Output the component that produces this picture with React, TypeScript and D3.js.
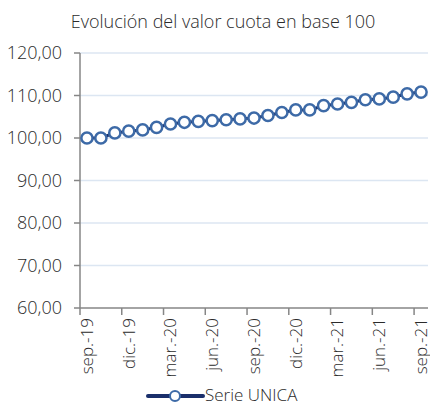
import { useEffect, useRef } from 'react';
import * as d3 from 'd3';

const months = [
    'sep.-19', 'oct.-19', 'nov.-19', 'dic.-19', 'ene.-20', 'feb.-20', 'mar.-20', 'abr.-20', 'may.-20',
    'jun.-20', 'jul.-20', 'ago.-20', 'sep.-20', 'oct.-20', 'nov.-20', 'dic.-20', 'ene.-21', 'feb.-21',
    'mar.-21', 'abr.-21', 'may.-21', 'jun.-21', 'jul.-21', 'ago.-21', 'sep.-21',
];
const serieUnica = [
    100.0, 100.0, 101.2, 101.6, 101.9, 102.5, 103.3, 103.7, 103.9, 104.1, 104.3, 104.5, 104.7,
    105.3, 106.0, 106.6, 106.6, 107.6, 108.0, 108.4, 109.0, 109.2, 109.6, 110.4, 110.8,
];
const yTicks = [60, 70, 80, 90, 100, 110, 120];

const FONT = '"Open Sans", "Noto Sans", sans-serif';
const TEXT = '#2b2b2b';
const WEIGHT = 300;

export default function App() {
    const svgRef = useRef<SVGSVGElement>(null);
    const width = 430;
    const height = 405;

    useEffect(() => {
        document.body.style.margin = '0';
        if (!svgRef.current) return;
        const svg = d3.select(svgRef.current);
        svg.selectAll('*').remove();

        const left = 80, right = 428, top = 53, bottom = 308;

        const x = d3.scaleBand<string>().domain(months).range([left, right]);
        const y = d3.scaleLinear().domain([60, 120]).range([bottom, top]);

        // Gridlines
        svg.append('g')
            .selectAll('line')
            .data(yTicks.filter(t => t > 60))
            .enter().append('line')
            .attr('x1', left).attr('x2', right)
            .attr('y1', d => y(d)).attr('y2', d => y(d))
            .attr('stroke', '#dce6f2')
            .attr('stroke-width', 1.5);

        // Y axis
        svg.append('line')
            .attr('x1', left).attr('x2', left)
            .attr('y1', top).attr('y2', bottom)
            .attr('stroke', '#868686').attr('stroke-width', 1.5);
        const yt = svg.append('g');
        yt.selectAll('line')
            .data(yTicks)
            .enter().append('line')
            .attr('x1', left - 6).attr('x2', left)
            .attr('y1', d => y(d)).attr('y2', d => y(d))
            .attr('stroke', '#868686').attr('stroke-width', 1.5);
        yt.selectAll('text')
            .data(yTicks)
            .enter().append('text')
            .attr('x', 62)
            .attr('y', d => y(d))
            .attr('dy', '0.35em')
            .attr('text-anchor', 'end')
            .attr('font-family', FONT)
            .attr('font-size', '18px')
            .attr('font-weight', WEIGHT)
            .attr('fill', TEXT)
            .text(d => d3.format('.2f')(d).replace('.', ','));

        // X axis
        svg.append('line')
            .attr('x1', left).attr('x2', right)
            .attr('y1', bottom).attr('y2', bottom)
            .attr('stroke', '#868686').attr('stroke-width', 1.5);
        const labelled = months.filter((_, i) => i % 3 === 0);
        svg.append('g')
            .selectAll('line')
            .data(labelled)
            .enter().append('line')
            .attr('x1', d => x(d)!).attr('x2', d => x(d)!)
            .attr('y1', bottom).attr('y2', bottom + 7)
            .attr('stroke', '#868686').attr('stroke-width', 1.5);
        svg.append('g')
            .selectAll('text')
            .data(labelled)
            .enter().append('text')
            .attr('transform', d => `translate(${x(d)! + x.bandwidth() / 2},${bottom + 10}) rotate(-90)`)
            .attr('dy', '0.35em')
            .attr('text-anchor', 'end')
            .attr('font-family', FONT)
            .attr('font-size', '17px')
            .attr('font-weight', WEIGHT)
            .attr('fill', TEXT)
            .text(d => d);

        // Series
        const cx = (i: number) => x(months[i])! + x.bandwidth() / 2;
        const line = d3.line<number>()
            .x((_, i) => cx(i))
            .y(d => y(d));
        svg.append('path')
            .datum(serieUnica)
            .attr('d', line)
            .attr('fill', 'none')
            .attr('stroke', '#1a2f6b')
            .attr('stroke-width', 3);
        svg.append('g')
            .selectAll('circle')
            .data(serieUnica)
            .enter().append('circle')
            .attr('cx', (_, i) => cx(i))
            .attr('cy', d => y(d))
            .attr('r', 5.6)
            .attr('fill', 'white')
            .attr('stroke', '#3d6aa7')
            .attr('stroke-width', 2.5);

        // Title
        svg.append('text')
            .attr('x', 223)
            .attr('y', 28)
            .attr('text-anchor', 'middle')
            .attr('font-family', FONT)
            .attr('font-size', '18px')
            .attr('font-weight', WEIGHT)
            .attr('fill', TEXT)
            .text('Evolución del valor cuota en base 100');

        // Legend
        const lg = svg.append('g');
        lg.append('line')
            .attr('x1', 148).attr('x2', 203)
            .attr('y1', 396).attr('y2', 396)
            .attr('stroke', '#1a2f6b')
            .attr('stroke-width', 4)
            .attr('stroke-linecap', 'round');
        lg.append('circle')
            .attr('cx', 175).attr('cy', 396).attr('r', 5)
            .attr('fill', 'white')
            .attr('stroke', '#3d6aa7')
            .attr('stroke-width', 2);
        lg.append('text')
            .attr('x', 205).attr('y', 395)
            .attr('dy', '0.35em')
            .attr('font-family', FONT)
            .attr('font-size', '17px')
            .attr('font-weight', WEIGHT)
            .attr('fill', TEXT)
            .text('Serie UNICA');
    }, []);

    return <svg ref={svgRef} width={width} height={height} style={{ display: 'block', background: 'white' }} />;
}
